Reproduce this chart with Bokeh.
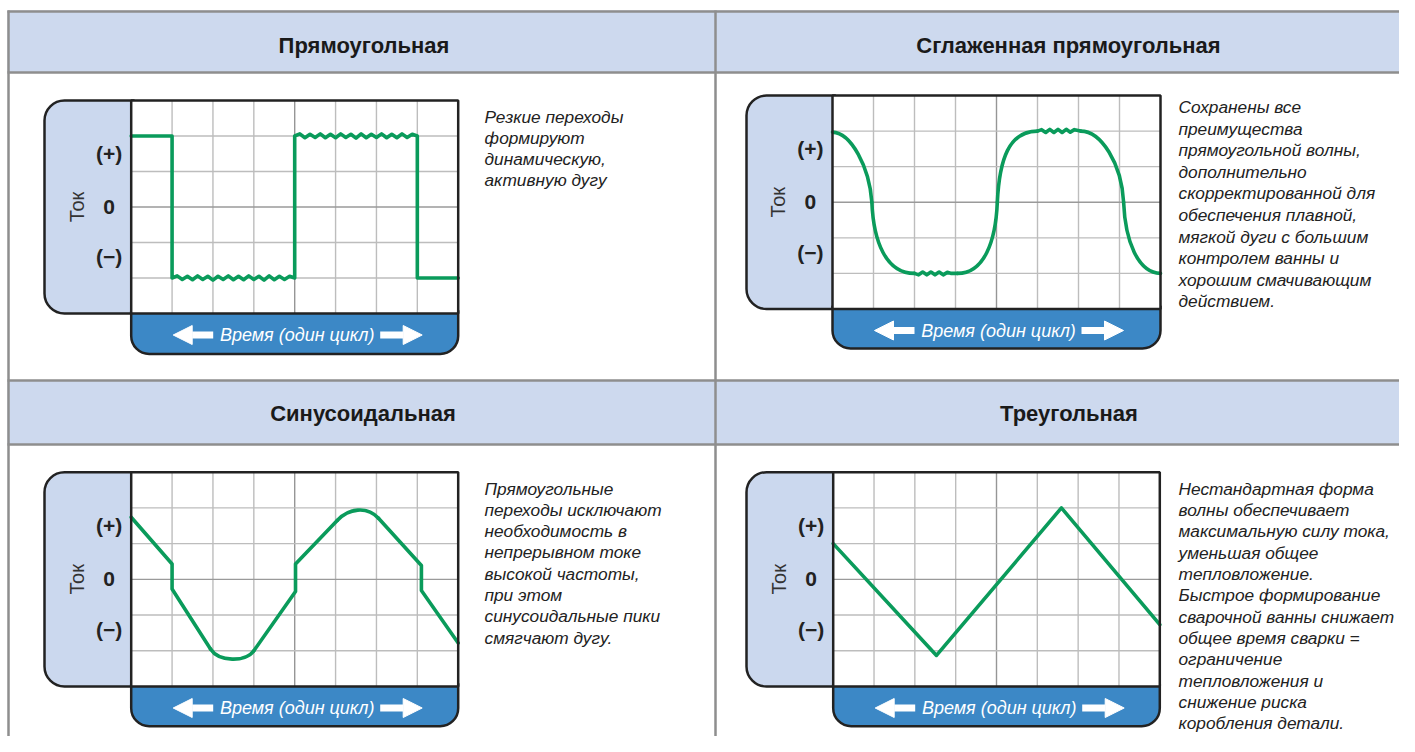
import math
from bokeh.plotting import figure
from bokeh.models import Range1d, Arrow, NormalHead
from bokeh.core.properties import value
from bokeh.embed import file_html
from bokeh.resources import INLINE

# ---------------- data ----------------
titles = ["Прямоугольная", "Сглаженная прямоугольная", "Синусоидальная", "Треугольная"]

descriptions = [
    ["Резкие переходы", "формируют", "динамическую,", "активную  дугу"],
    ["Сохранены все", "преимущества", "прямоугольной волны,", "дополнительно",
     "скорректированной для", "обеспечения плавной,", "мягкой дуги с большим",
     "контролем ванны и", "хорошим смачивающим", "действием."],
    ["Прямоугольные", "переходы исключают", "необходимость в", "непрерывном токе",
     "высокой частоты,", "при этом", "синусоидальные пики", "смягчают дугу."],
    ["Нестандартная форма", "волны обеспечивает", "максимальную силу тока,",
     "уменьшая общее", "тепловложение.", "Быстрое формирование",
     "сварочной ванны снижает", "общее время сварки =", "ограничение",
     "тепловложения и", "снижение риска", "коробления детали."],
]

axis_name = "Ток"
level_labels = ["(+)", "0", "(−)"]
level_values = [4.5, 3.0, 1.6]
time_label = "Время (один цикл)"
grid_x = [1, 2, 3, 4, 5, 6, 7]
grid_y = [1, 2, 3, 4, 5]

# 1) square wave (with ripple on the long flats)
square_x = [0.0, 1.0, 1.0,
            1.125, 1.25, 1.375, 1.5, 1.625, 1.75, 1.875, 2.0, 2.125, 2.25, 2.375, 2.5,
            2.625, 2.75, 2.875, 3.0, 3.125, 3.25, 3.375, 3.5, 3.625, 3.75, 3.875, 4.0,
            4.0,
            4.125, 4.25, 4.375, 4.5, 4.625, 4.75, 4.875, 5.0, 5.125, 5.25, 5.375, 5.5,
            5.625, 5.75, 5.875, 6.0, 6.125, 6.25, 6.375, 6.5, 6.625, 6.75, 6.875, 7.0,
            7.0, 8.0]
square_y = [5.0, 5.0, 1.0,
            1.06, 0.96, 1.05, 0.95, 1.06, 0.96, 1.05, 0.94, 1.05, 0.96, 1.06, 0.95,
            1.05, 0.95, 1.06, 0.96, 1.05, 0.94, 1.06, 0.95, 1.05, 0.96, 1.05, 1.0,
            5.0,
            5.06, 4.95, 5.05, 4.96, 5.06, 4.95, 5.05, 4.95, 5.06, 4.96, 5.05, 4.94,
            5.06, 4.95, 5.05, 4.96, 5.06, 4.95, 5.05, 4.95, 5.06, 4.96, 5.05, 5.0,
            1.0, 1.0]
square_curves = dict(x0=[], y0=[], x1=[], y1=[], cx0=[], cy0=[], cx1=[], cy1=[])

# 2) smoothed square: rippled flats (polyline, NaN = break) + transitions (cubic Bezier)
smooth_x = [2.0, 2.1, 2.2, 2.3, 2.4, 2.5, 2.6, 2.7, 2.8, 2.9, 3.05, float("nan"),
            5.0, 5.1, 5.2, 5.3, 5.4, 5.5, 5.6, 5.7, 5.8, 5.9, 6.05]
smooth_y = [1.0, 0.96, 1.04, 0.96, 1.04, 0.96, 1.04, 0.96, 1.03, 1.0, 1.0, float("nan"),
            5.0, 5.04, 4.96, 5.05, 4.96, 5.05, 4.96, 5.05, 4.97, 5.04, 5.0]
smooth_curves = dict(
    x0=[0.0, 0.96, 3.05, 4.02, 6.05, 7.1],
    y0=[4.97, 3.0, 1.0, 3.0, 5.0, 3.0],
    cx0=[0.45, 1.0, 3.7, 4.07, 6.55, 7.14],
    cy0=[4.95, 1.9, 1.0, 4.2, 5.0, 1.9],
    cx1=[0.9, 1.3, 3.98, 4.3, 7.05, 7.45],
    cy1=[4.0, 1.0, 1.9, 5.0, 4.1, 1.02],
    x1=[0.96, 2.0, 4.02, 5.0, 7.1, 8.0],
    y1=[3.0, 1.0, 3.0, 5.0, 3.0, 1.0],
)

# 3) "sine": straight flanks with jumps (polyline) + rounded peaks (cubic Bezier)
sine_x = [0.0, 1.0, 1.0, 1.94, float("nan"), 3.0, 4.02, 4.02, 5.04, float("nan"),
          6.05, 7.1, 7.1, 8.0]
sine_y = [4.74, 3.43, 2.73, 1.05, float("nan"), 1.0, 2.66, 3.43, 4.65, float("nan"),
          4.71, 3.39, 2.69, 1.22]
sine_curves = dict(
    x0=[1.94, 5.04], y0=[1.05, 4.65],
    cx0=[2.14, 5.32], cy0=[0.69, 4.99],
    cx1=[2.8, 5.77], cy1=[0.67, 5.06],
    x1=[3.0, 6.05], y1=[1.0, 4.71],
)

# 4) triangle
tri_x = [0.0, 2.53, 5.59, 8.0]
tri_y = [4.0, 0.87, 5.0, 1.73]
tri_curves = dict(x0=[], y0=[], x1=[], y1=[], cx0=[], cy0=[], cx1=[], cy1=[])

waves = [(square_x, square_y, square_curves), (smooth_x, smooth_y, smooth_curves),
         (sine_x, sine_y, sine_curves), (tri_x, tri_y, tri_curves)]

# ---------------- layout (page pixels) ----------------
W, H = 1399, 736
def X(ix):
    return ix
def Y(iy):
    return H - iy

title_pos = [(363.5, 45), (1068, 45), (362.5, 413), (1068.5, 413)]
panels = [
    dict(frame=(130.7, 100, 457.7, 313), tab_left=44, tab_bottom=353.5, text=(484, 116), lh=21.0),
    dict(frame=(832, 95, 1160, 308.5), tab_left=746, tab_bottom=348, text=(1178, 106.5), lh=21.6),
    dict(frame=(130.7, 471.7, 457.7, 686), tab_left=44, tab_bottom=725.7, text=(484, 488), lh=21.3),
    dict(frame=(832.7, 471.7, 1159.3, 686), tab_left=746, tab_bottom=725.7, text=(1178, 488), lh=21.35),
]

HDR = "#cdd9ee"
TAB = "#cbd8ee"
BLUE = "#3c88c6"
GREEN = "#0a9b5b"
BORDER = "#8e8e8e"
INK = "#222222"
FONT = value("Liberation Sans")

p = figure(width=W, height=H, x_range=Range1d(0, W), y_range=Range1d(0, H),
           output_backend="svg", toolbar_location=None, min_border=0,
           x_axis_location=None, y_axis_location=None)
p.grid.visible = False
p.outline_line_color = None
p.background_fill_color = "white"
p.border_fill_color = "white"

# table headers and borders
p.quad(left=[X(7), X(7)], right=[W, W], top=[Y(10), Y(380)], bottom=[Y(72), Y(444)],
       fill_color=HDR, line_color=None)
p.segment(x0=[X(7)] * 4, x1=[W] * 4, y0=[Y(11), Y(72), Y(380), Y(444)],
          y1=[Y(11), Y(72), Y(380), Y(444)], line_color=BORDER, line_width=2.5)
p.segment(x0=[X(8), X(715)], x1=[X(8), X(715)], y0=[Y(10), Y(10)], y1=[0, 0],
          line_color=BORDER, line_width=2.5)

p.text(x=[X(t[0]) for t in title_pos], y=[Y(t[1]) for t in title_pos], text=titles,
       text_align="center", text_baseline="middle", text_font=FONT,
       text_font_style="bold", text_font_size="22px", text_color="#1a1a1a")

for k, pan in enumerate(panels):
    L, T, R, B = pan["frame"]
    # left tab
    p.quad(left=[X(pan["tab_left"])], right=[X(L) + 3], top=[Y(T)], bottom=[Y(B)],
           fill_color=TAB, line_color=INK, line_width=2.5, border_radius=(20, 0, 0, 20))
    # bottom tab
    p.quad(left=[X(L)], right=[X(R)], top=[Y(B) + 3], bottom=[Y(pan["tab_bottom"])],
           fill_color=BLUE, line_color=INK, line_width=2.5, border_radius=(0, 0, 18, 18))
    # frame background
    p.quad(left=[X(L)], right=[X(R)], top=[Y(T)], bottom=[Y(B)],
           fill_color="white", line_color=None)

    sub = p.subplot(x_source=Range1d(0, 8), y_source=Range1d(0, 6),
                    x_target=Range1d(X(L), X(R)), y_target=Range1d(Y(B), Y(T)))
    # grid
    sub.segment(x0=grid_x, x1=grid_x, y0=[0] * len(grid_x), y1=[6] * len(grid_x),
                line_color=["#bdbdbd", "#bdbdbd", "#bdbdbd", "#969696", "#bdbdbd", "#bdbdbd", "#bdbdbd"],
                line_width=1.4)
    sub.segment(x0=[0] * len(grid_y), x1=[8] * len(grid_y), y0=grid_y, y1=grid_y,
                line_color=["#bdbdbd", "#bdbdbd", "#9a9a9a", "#bdbdbd", "#bdbdbd"],
                line_width=1.4)
    # waveform
    wx, wy, wc = waves[k]
    sub.line(wx, wy, line_color=GREEN, line_width=3.6, line_join="round", line_cap="round")
    if wc["x0"]:
        sub.bezier(x0=wc["x0"], y0=wc["y0"], x1=wc["x1"], y1=wc["y1"],
                   cx0=wc["cx0"], cy0=wc["cy0"], cx1=wc["cx1"], cy1=wc["cy1"],
                   line_color=GREEN, line_width=3.6, line_cap="round")
    # labels on the tab
    sub.text(x=[-0.54] * 3, y=level_values, text=level_labels, text_align="center",
             text_baseline="middle", text_font=FONT, text_font_style="bold",
             text_font_size="21px", text_color=INK)
    sub.text(x=[-1.32], y=[3.0], text=[axis_name], angle=math.pi / 2, text_align="center",
             text_baseline="middle", text_font=FONT, text_font_size="20px", text_color="#333333")

    # frame border on top
    p.quad(left=[X(L)], right=[X(R)], top=[Y(T)], bottom=[Y(B)],
           fill_color=None, line_color=INK, line_width=2.5)

    # time label and arrows
    yc = Y(B + 21.5)
    p.text(x=[X(L + 166)], y=[yc], text=[time_label], text_align="center",
           text_baseline="middle", text_font=FONT, text_font_style="italic",
           text_font_size="18px", text_color="white")
    for xs, xe in ((L + 82, L + 42), (L + 249, L + 291)):
        p.add_layout(Arrow(x_start=X(xs), y_start=yc, x_end=X(xe), y_end=yc,
                           line_color="white", line_width=7,
                           end=NormalHead(size=19, fill_color="white", line_color="white", line_width=1)))

    # description
    tx, ty = pan["text"]
    lines = descriptions[k]
    p.text(x=[X(tx)] * len(lines), y=[Y(ty + i * pan["lh"]) for i in range(len(lines))],
           text=lines, text_align="left", text_baseline="middle", text_font=FONT,
           text_font_style="italic", text_font_size="17.3px", text_color=INK)

open("out.html", "w").write(file_html(p, INLINE))
